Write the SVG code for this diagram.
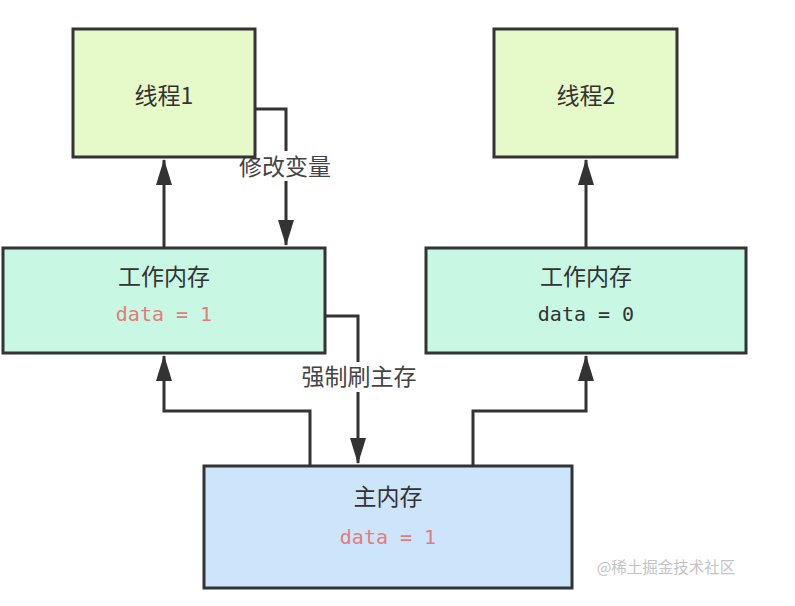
<svg xmlns="http://www.w3.org/2000/svg" width="795" height="606" viewBox="0 0 795 606">
<style>
.box{stroke:#333;stroke-width:3}
.t{font-family:"Noto Sans CJK SC","Noto Sans",sans-serif;font-size:23px;fill:#333;text-anchor:middle}
.code{font-family:"DejaVu Sans Mono",monospace;font-size:20px;text-anchor:middle}
.line{fill:none;stroke:#333;stroke-width:3}
.lbl{font-family:"Noto Sans CJK SC",sans-serif;font-size:23px;fill:#444;text-anchor:middle}
</style>
<defs>
<marker id="arr" viewBox="0 0 26 16" refX="25" refY="8" markerWidth="26" markerHeight="16" markerUnits="userSpaceOnUse" orient="auto">
<path d="M0,0 L26,8 L0,16 z" fill="#333"/>
</marker>
</defs>
<rect width="795" height="606" fill="#fff"/>
<g id="connectors">
<path class="line" d="M164,248 V160" marker-end="url(#arr)"/>
<path class="line" d="M255,109 H286 V245" marker-end="url(#arr)"/>
<rect x="237" y="151" width="98" height="30" fill="#fff"/>
<text class="lbl" x="285" y="175">修改变量</text>
<path class="line" d="M325,316 H358 V463" marker-end="url(#arr)"/>
<rect x="299" y="362" width="120" height="30" fill="#fff"/>
<text class="lbl" x="359" y="385">强制刷主存</text>
<path class="line" d="M586,248 V160" marker-end="url(#arr)"/>
<path class="line" d="M310,466 V411 H164 V356" marker-end="url(#arr)"/>
<path class="line" d="M473,466 V411 H586 V356" marker-end="url(#arr)"/>
</g>
<g id="thread1">
<rect class="box" x="73" y="29" width="182" height="128" fill="#e6f9c9"/>
<text class="t" x="164" y="104" font-size="22">线程1</text>
</g>
<g id="thread2">
<rect class="box" x="494" y="29" width="183" height="128" fill="#e6f9c9"/>
<text class="t" x="586" y="104" font-size="22">线程2</text>
</g>
<g id="work1">
<rect class="box" x="3" y="248" width="322" height="105" fill="#c8f8e4"/>
<text class="t" x="164" y="285">工作内存</text>
<text class="code" x="164" y="321" fill="#e57b7b">data = 1</text>
</g>
<g id="work2">
<rect class="box" x="426" y="248" width="320" height="105" fill="#c8f8e4"/>
<text class="t" x="586" y="285">工作内存</text>
<text class="code" x="586" y="321" fill="#333">data = 0</text>
</g>
<g id="main">
<rect class="box" x="204" y="466" width="368" height="122" fill="#cde5fb"/>
<text class="t" x="388" y="505">主内存</text>
<text class="code" x="388" y="544" fill="#e57b7b">data = 1</text>
</g>
<text x="666" y="573" font-family="Noto Sans CJK SC,sans-serif" font-size="15.5" fill="#c4c4c4" text-anchor="middle">@稀土掘金技术社区</text>
</svg>
